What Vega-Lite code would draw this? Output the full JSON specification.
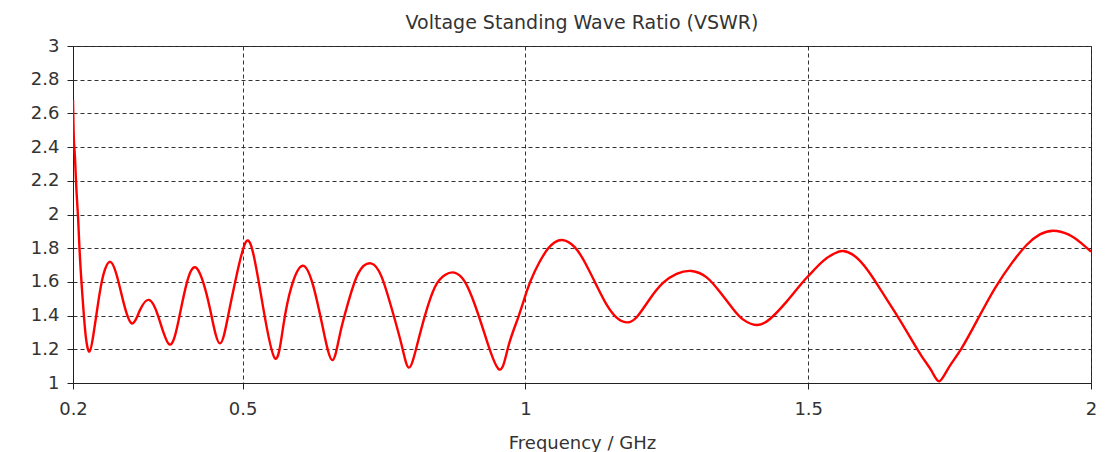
{
  "$schema": "https://vega.github.io/schema/vega-lite/v6.json",
  "width": 1018,
  "height": 337,
  "autosize": {"type": "none"},
  "padding": {"left": 73, "top": 46, "right": 19, "bottom": 69},
  "background": "white",
  "title": {
    "text": "Voltage Standing Wave Ratio (VSWR)",
    "anchor": "middle",
    "offset": 4,
    "font": "DejaVu Sans",
    "fontSize": 19,
    "fontWeight": "normal",
    "color": "#333333"
  },
  "config": {
    "view": {"stroke": "#222222", "strokeWidth": 1},
    "axis": {
      "labelFont": "DejaVu Sans",
      "labelFontSize": 18,
      "labelColor": "#333333",
      "titleFont": "DejaVu Sans",
      "titleFontSize": 18,
      "titleFontWeight": "normal",
      "titleColor": "#333333",
      "domainColor": "#222222",
      "tickColor": "#222222",
      "tickSize": 6,
      "gridColor": "#333333",
      "gridDash": [4, 3],
      "gridOpacity": 1,
      "gridWidth": 1
    }
  },
  "data": {
    "values": [
      {"f": 0.2000, "v": 2.68},
      {"f": 0.2015, "v": 2.45},
      {"f": 0.2035, "v": 2.34},
      {"f": 0.2060, "v": 2.15},
      {"f": 0.2090, "v": 1.98},
      {"f": 0.2124, "v": 1.74},
      {"f": 0.2183, "v": 1.443},
      {"f": 0.2230, "v": 1.265},
      {"f": 0.2289, "v": 1.186},
      {"f": 0.2360, "v": 1.285},
      {"f": 0.2448, "v": 1.483},
      {"f": 0.2536, "v": 1.641},
      {"f": 0.2654, "v": 1.720},
      {"f": 0.2772, "v": 1.641},
      {"f": 0.2890, "v": 1.483},
      {"f": 0.3037, "v": 1.354},
      {"f": 0.3185, "v": 1.433},
      {"f": 0.3344, "v": 1.493},
      {"f": 0.3509, "v": 1.394},
      {"f": 0.3703, "v": 1.229},
      {"f": 0.3862, "v": 1.364},
      {"f": 0.4010, "v": 1.591},
      {"f": 0.4169, "v": 1.686},
      {"f": 0.4334, "v": 1.562},
      {"f": 0.4452, "v": 1.394},
      {"f": 0.4599, "v": 1.235},
      {"f": 0.4746, "v": 1.404},
      {"f": 0.4894, "v": 1.641},
      {"f": 0.5071, "v": 1.843},
      {"f": 0.5218, "v": 1.720},
      {"f": 0.5365, "v": 1.443},
      {"f": 0.5571, "v": 1.146},
      {"f": 0.5719, "v": 1.340},
      {"f": 0.5866, "v": 1.575},
      {"f": 0.6061, "v": 1.696},
      {"f": 0.6249, "v": 1.575},
      {"f": 0.6426, "v": 1.315},
      {"f": 0.6585, "v": 1.136},
      {"f": 0.6720, "v": 1.290},
      {"f": 0.6868, "v": 1.480},
      {"f": 0.7044, "v": 1.651},
      {"f": 0.7268, "v": 1.710},
      {"f": 0.7457, "v": 1.630},
      {"f": 0.7634, "v": 1.443},
      {"f": 0.7811, "v": 1.225},
      {"f": 0.7940, "v": 1.091},
      {"f": 0.8076, "v": 1.215},
      {"f": 0.8223, "v": 1.400},
      {"f": 0.8400, "v": 1.570},
      {"f": 0.8577, "v": 1.641},
      {"f": 0.8742, "v": 1.655},
      {"f": 0.8930, "v": 1.600},
      {"f": 0.9107, "v": 1.463},
      {"f": 0.9284, "v": 1.285},
      {"f": 0.9531, "v": 1.081},
      {"f": 0.9696, "v": 1.215},
      {"f": 0.9873, "v": 1.390},
      {"f": 1.0021, "v": 1.542},
      {"f": 1.0168, "v": 1.665},
      {"f": 1.0404, "v": 1.799},
      {"f": 1.0651, "v": 1.849},
      {"f": 1.0875, "v": 1.805},
      {"f": 1.1052, "v": 1.715},
      {"f": 1.1259, "v": 1.578},
      {"f": 1.1435, "v": 1.465},
      {"f": 1.1612, "v": 1.388},
      {"f": 1.1789, "v": 1.360},
      {"f": 1.1966, "v": 1.390},
      {"f": 1.2202, "v": 1.500},
      {"f": 1.2437, "v": 1.595},
      {"f": 1.2673, "v": 1.648},
      {"f": 1.2938, "v": 1.665},
      {"f": 1.3204, "v": 1.627},
      {"f": 1.3439, "v": 1.540},
      {"f": 1.3675, "v": 1.438},
      {"f": 1.3852, "v": 1.376},
      {"f": 1.4088, "v": 1.344},
      {"f": 1.4323, "v": 1.380},
      {"f": 1.4618, "v": 1.483},
      {"f": 1.4883, "v": 1.591},
      {"f": 1.5030, "v": 1.645},
      {"f": 1.5266, "v": 1.725},
      {"f": 1.5472, "v": 1.770},
      {"f": 1.5620, "v": 1.783},
      {"f": 1.5826, "v": 1.752},
      {"f": 1.6061, "v": 1.665},
      {"f": 1.6297, "v": 1.545},
      {"f": 1.6533, "v": 1.420},
      {"f": 1.6769, "v": 1.290},
      {"f": 1.7004, "v": 1.160},
      {"f": 1.7181, "v": 1.072},
      {"f": 1.7316, "v": 1.010},
      {"f": 1.7476, "v": 1.087},
      {"f": 1.7711, "v": 1.206},
      {"f": 1.8006, "v": 1.384},
      {"f": 1.8301, "v": 1.562},
      {"f": 1.8596, "v": 1.710},
      {"f": 1.8861, "v": 1.819},
      {"f": 1.9096, "v": 1.882},
      {"f": 1.9332, "v": 1.904},
      {"f": 1.9597, "v": 1.882},
      {"f": 1.9833, "v": 1.829},
      {"f": 2.0000, "v": 1.779}
    ]
  },
  "mark": {"type": "line", "color": "#ff0000", "strokeWidth": 2.4, "interpolate": "natural", "clip": true},
  "encoding": {
    "x": {
      "field": "f",
      "type": "quantitative",
      "scale": {"domain": [0.2, 2], "nice": false, "zero": false},
      "axis": {
        "values": [0.2, 0.5, 1, 1.5, 2],
        "format": "~g",
        "title": "Frequency / GHz",
        "labelPadding": 11,
        "titlePadding": 16,
        "labelFlush": false
      }
    },
    "y": {
      "field": "v",
      "type": "quantitative",
      "scale": {"domain": [1, 3], "nice": false, "zero": false},
      "axis": {
        "values": [1, 1.2, 1.4, 1.6, 1.8, 2, 2.2, 2.4, 2.6, 2.8, 3],
        "format": "~g",
        "title": null,
        "labelPadding": 8,
        "labelFlush": false
      }
    }
  }
}
